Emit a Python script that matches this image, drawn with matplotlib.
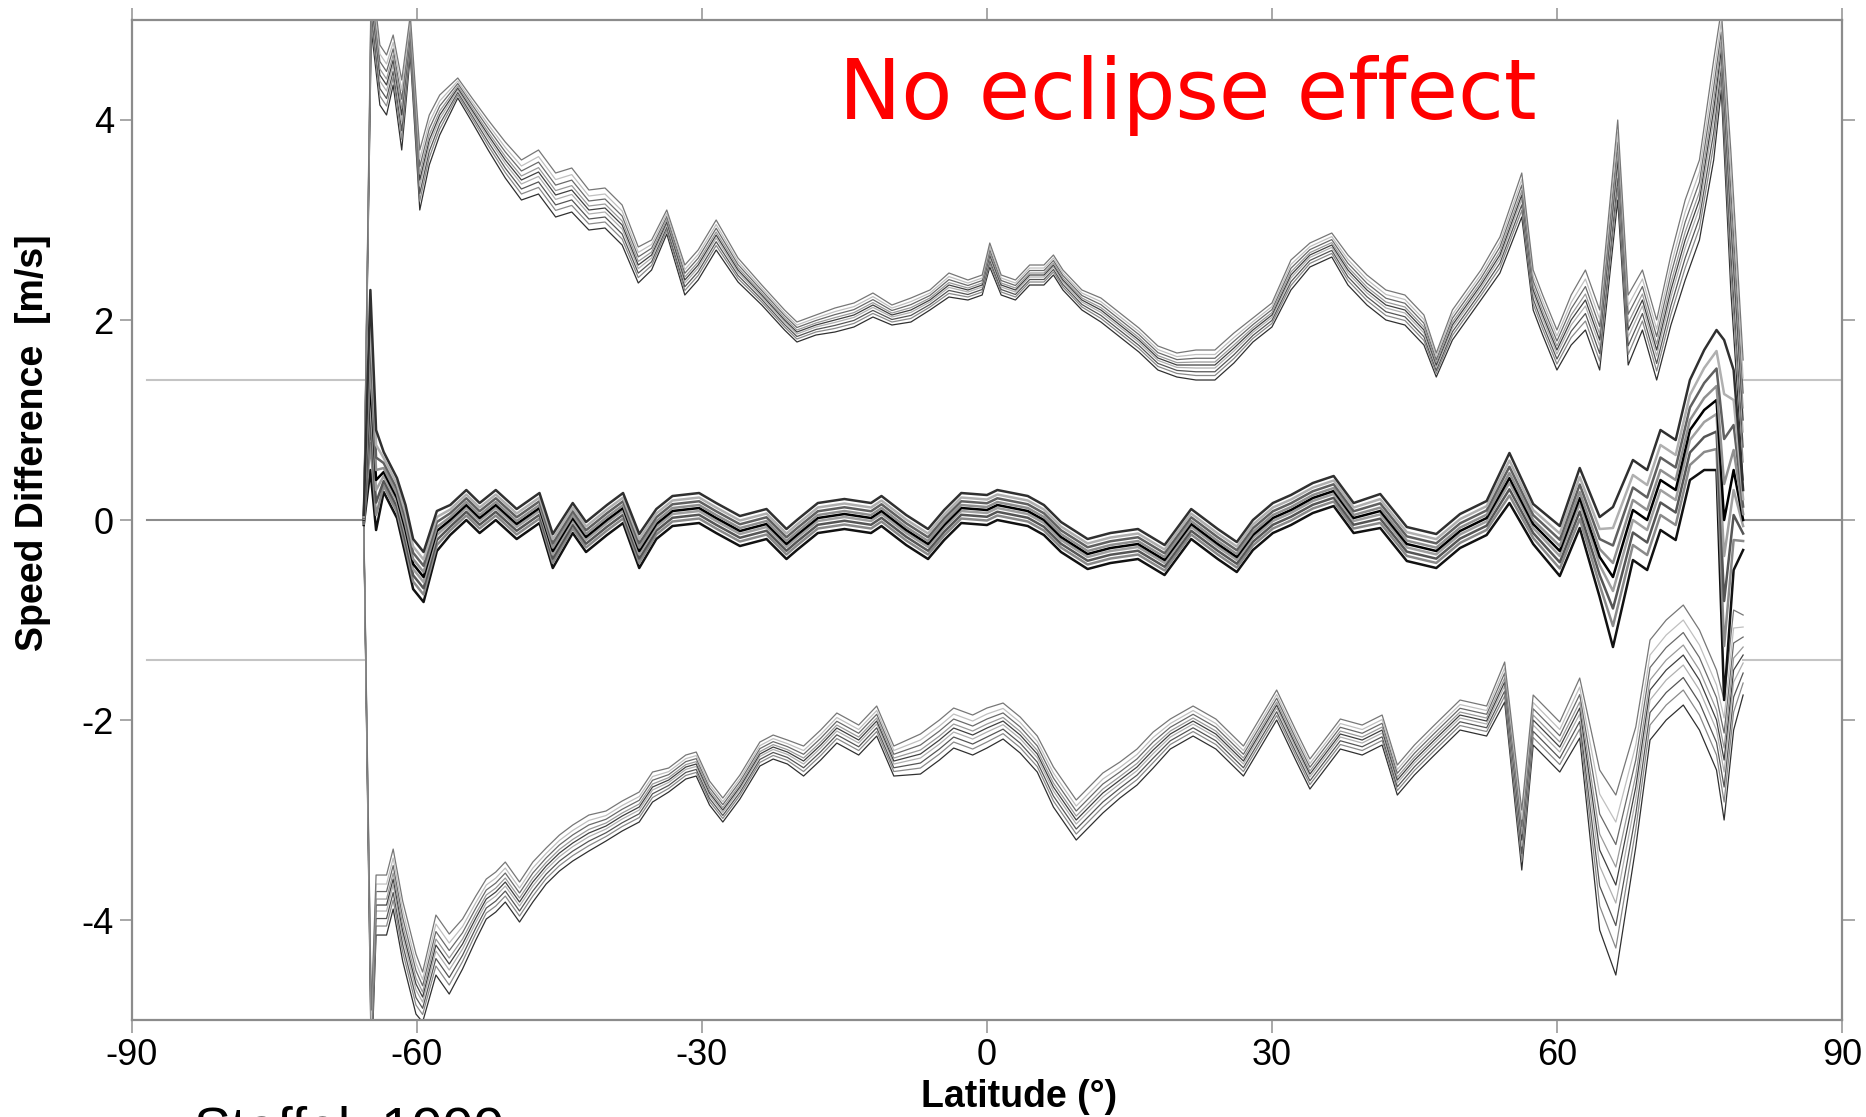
import numpy as np
import matplotlib
matplotlib.use("Agg")
import matplotlib.pyplot as plt

plt.rcParams['font.family'] = ['Liberation Sans', 'DejaVu Sans']
plt.rcParams['axes.unicode_minus'] = False

# upper bundle (latitude, mean speed difference, half width of the spread of runs)
upper_lat = [-65.6, -64.8, -63.9, -63.2, -62.5, -61.6, -60.7, -59.7, -58.7, -57.6,
             -55.7, -54.2, -52.5, -50.7, -49.0, -47.2, -45.4, -43.7, -41.9, -40.2,
             -38.4, -36.7, -35.3, -33.7, -31.8, -30.4, -28.5, -26.2, -23.7, -21.3,
             -20, -18, -16, -14, -12, -10, -8, -6, -4, -2,
             -0.5, 0.3, 1.5, 3, 4.5, 6, 7, 8, 10, 12,
             14, 16, 18, 20, 22, 24, 26, 28, 30, 32,
             34, 36.3, 38, 40, 42, 44, 46, 47.3, 49, 50.5,
             52, 54, 56.3, 57.5, 58.5, 60, 61.5, 63, 64.5, 66.4,
             67.5, 69, 70.5, 72, 73.5, 75, 76.5, 77.3, 78.3, 79.6]
upper_val = [0.0, 5.2, 4.45, 4.35, 4.6, 4.05, 4.85, 3.4, 3.8, 4.05,
             4.32, 4.1, 3.85, 3.6, 3.4, 3.48, 3.25, 3.3, 3.1, 3.12,
             2.95, 2.55, 2.65, 2.98, 2.4, 2.55, 2.85, 2.5, 2.25, 2.0,
             1.88, 1.95, 2.0, 2.05, 2.15, 2.05, 2.1, 2.2, 2.35, 2.3,
             2.35, 2.65, 2.35, 2.3, 2.45, 2.45, 2.55, 2.4, 2.2, 2.1,
             1.95, 1.8, 1.62, 1.55, 1.55, 1.55, 1.72, 1.9, 2.05, 2.45,
             2.65, 2.75, 2.5, 2.3, 2.15, 2.1, 1.9, 1.55, 1.95, 2.15,
             2.35, 2.65, 3.25, 2.3, 2.05, 1.7, 2.0, 2.2, 1.8, 3.6,
             1.9, 2.2, 1.7, 2.3, 2.8, 3.2, 4.1, 4.7, 3.0, 1.0]
upper_spread = [0.05, 0.3, 0.3, 0.3, 0.25, 0.35, 0.2, 0.3, 0.25, 0.2,
                0.1, 0.12, 0.15, 0.18, 0.2, 0.22, 0.22, 0.22, 0.2, 0.2,
                0.2, 0.18, 0.15, 0.12, 0.15, 0.15, 0.15, 0.12, 0.1, 0.1,
                0.1, 0.1, 0.12, 0.12, 0.12, 0.1, 0.12, 0.1, 0.12, 0.1,
                0.1, 0.12, 0.1, 0.1, 0.1, 0.1, 0.1, 0.1, 0.1, 0.12,
                0.12, 0.12, 0.12, 0.12, 0.15, 0.15, 0.15, 0.12, 0.12, 0.15,
                0.12, 0.12, 0.15, 0.15, 0.15, 0.15, 0.15, 0.12, 0.15, 0.15,
                0.15, 0.18, 0.22, 0.2, 0.2, 0.2, 0.25, 0.3, 0.3, 0.4,
                0.35, 0.3, 0.3, 0.35, 0.4, 0.4, 0.5, 0.4, 0.7, 0.6]

# middle bundle
mid_lat = [-65.6, -64.9, -64.3, -63.5, -62.1, -61.2, -60.4, -59.3, -57.9, -56.5,
           -54.8, -53.4, -51.7, -49.5, -47.1, -45.7, -43.6, -42.2, -40.0, -38.3,
           -36.6, -34.8, -33.1, -30.3, -28.5, -26.0, -23.2, -21.1, -20, -17.8,
           -15, -12.2, -11.1, -8.5, -6.2, -4.5, -2.7, 0, 1.1, 4.3,
           6, 7.8, 10.6, 13, 15.9, 18.7, 21.5, 24.3, 26.3, 28,
           30.1, 32, 34.3, 36.5, 38.6, 41.4, 44.2, 47.3, 49.8, 52.6,
           55.0, 57.5, 60.3, 62.4, 64.5, 65.9, 68.0, 69.5, 70.9, 72.5,
           74.0, 75.5, 76.8, 77.6, 78.6, 79.6]
mid_val = [0.0, 1.4, 0.4, 0.48, 0.22, -0.1, -0.44, -0.57, -0.11, 0.0,
           0.15, 0.02, 0.15, -0.04, 0.12, -0.31, 0.02, -0.17, 0.0, 0.12,
           -0.31, -0.04, 0.09, 0.12, 0.02, -0.11, -0.04, -0.24, -0.15, 0.02,
           0.06, 0.02, 0.09, -0.1, -0.24, -0.05, 0.12, 0.1, 0.15, 0.09,
           0.0, -0.17, -0.34, -0.28, -0.24, -0.4, -0.04, -0.24, -0.37, -0.15,
           0.02, 0.1, 0.22, 0.29, 0.02, 0.09, -0.24, -0.31, -0.11, 0.02,
           0.42, -0.04, -0.31, 0.22, -0.37, -0.57, 0.1, 0.0, 0.4, 0.3,
           0.9, 1.1, 1.2, 0.0, 0.5, 0.0]
mid_spread = [0.05, 0.9, 0.5, 0.2, 0.2, 0.25, 0.25, 0.25, 0.2, 0.15,
              0.15, 0.15, 0.15, 0.15, 0.15, 0.17, 0.15, 0.15, 0.15, 0.15,
              0.17, 0.15, 0.15, 0.15, 0.15, 0.15, 0.15, 0.15, 0.15, 0.15,
              0.15, 0.15, 0.15, 0.15, 0.15, 0.15, 0.15, 0.15, 0.15, 0.15,
              0.15, 0.15, 0.15, 0.15, 0.15, 0.15, 0.15, 0.15, 0.15, 0.15,
              0.15, 0.15, 0.15, 0.15, 0.15, 0.17, 0.17, 0.17, 0.17, 0.17,
              0.25, 0.2, 0.25, 0.3, 0.4, 0.7, 0.5, 0.5, 0.5, 0.5,
              0.5, 0.6, 0.7, 1.8, 1.0, 0.3]

# lower bundle
low_lat = [-65.6, -64.8, -64.3, -63.2, -62.5, -61.5, -60.1, -59.4, -58.0, -56.6,
           -55.2, -53.8, -52.7, -51.7, -50.7, -49.2, -47.8, -46.4, -45.0, -43.6,
           -41.9, -40.1, -38.4, -36.6, -35.2, -33.5, -31.7, -30.6, -29.2, -27.8,
           -26.0, -23.9, -22.5, -21.0, -19.3, -17.5, -15.8, -13.5, -11.6, -9.8,
           -7.0, -5.0, -3.5, -1.5, 0.0, 1.7, 3.5, 5.3, 7.0, 9.4,
           12.2, 14, 15.8, 17.5, 19.3, 21.7, 24.1, 27.0, 30.5, 32.5,
           34.0, 37.2, 39.5, 41.6, 43.2, 45, 47.0, 49.8, 52.6, 54.5,
           56.3, 57.5, 60.3, 62.4, 64.5, 66.2, 68.3, 69.8, 71.5, 73.3,
           75, 76.8, 77.6, 78.6, 79.6]
low_val = [0.0, -5.2, -3.85, -3.85, -3.59, -4.11, -4.64, -4.77, -4.25, -4.44,
           -4.24, -3.98, -3.79, -3.72, -3.62, -3.82, -3.62, -3.46, -3.33, -3.23,
           -3.13, -3.06, -2.96, -2.87, -2.67, -2.6, -2.47, -2.44, -2.73, -2.9,
           -2.67, -2.34, -2.27, -2.32, -2.41, -2.25, -2.08, -2.2, -2.01, -2.41,
           -2.34, -2.2, -2.08, -2.15, -2.08, -2.01, -2.15, -2.34, -2.67, -3.0,
           -2.73, -2.6, -2.47, -2.3, -2.14, -2.01, -2.14, -2.41, -1.85, -2.25,
           -2.54, -2.14, -2.2, -2.1, -2.6, -2.4, -2.21, -1.95, -2.01, -1.62,
           -3.2, -2.0, -2.27, -1.88, -3.3, -3.65, -2.67, -1.7, -1.5, -1.35,
           -1.6, -2.0, -2.4, -1.5, -1.35]
low_spread = [0.05, 0.3, 0.3, 0.3, 0.3, 0.3, 0.3, 0.25, 0.3, 0.3,
              0.25, 0.22, 0.2, 0.2, 0.2, 0.2, 0.2, 0.18, 0.18, 0.18,
              0.18, 0.15, 0.15, 0.15, 0.15, 0.12, 0.12, 0.12, 0.12, 0.12,
              0.12, 0.12, 0.12, 0.12, 0.15, 0.15, 0.15, 0.15, 0.15, 0.15,
              0.2, 0.2, 0.2, 0.2, 0.2, 0.18, 0.18, 0.18, 0.2, 0.2,
              0.2, 0.18, 0.18, 0.18, 0.15, 0.15, 0.15, 0.15, 0.15, 0.15,
              0.15, 0.15, 0.15, 0.15, 0.15, 0.15, 0.15, 0.15, 0.15, 0.2,
              0.3, 0.25, 0.25, 0.3, 0.8, 0.9, 0.6, 0.5, 0.5, 0.5,
              0.5, 0.5, 0.6, 0.6, 0.4]

# individual runs: position inside the bundle and grey level
run_offsets = [-1.0, -0.7, -0.45, -0.2, 0.0, 0.2, 0.45, 0.7, 1.0]
run_greys = ['#303030', '#8a8a8a', '#555555', '#b0b0b0', '#404040',
             '#9a9a9a', '#6a6a6a', '#c0c0c0', '#777777']
mid_greys = ['#111111', '#8a8a8a', '#555555', '#a0a0a0', '#000000',
             '#909090', '#606060', '#b0b0b0', '#303030']

# reference levels outside the data range
ref_levels = [1.4, 0.0, -1.4]
ref_colors = ['#c4c4c4', '#8c8c8c', '#c4c4c4']
ref_left = (-88.4, -65.6)
ref_right = (79.6, 90.0)

xticks = [-90, -60, -30, 0, 30, 60, 90]
yticks = [-4, -2, 0, 2, 4]

fig = plt.figure(figsize=(18.66, 11.17), dpi=100)
ax = fig.add_axes([0.0707, 0.0868, 0.9164, 0.8953])

for lev, col in zip(ref_levels, ref_colors):
    for lo, hi in (ref_left, ref_right):
        ax.plot([lo, hi], [lev, lev], color=col, lw=1.5, zorder=1)


def draw_bundle(lat, val, spread, greys, lw):
    lat = np.asarray(lat)
    val = np.asarray(val)
    spread = np.asarray(spread)
    for off, g in zip(run_offsets, greys):
        ax.plot(lat, val + off * spread, color=g, lw=lw, zorder=2)


draw_bundle(upper_lat, upper_val, upper_spread, run_greys, 0.9)
draw_bundle(low_lat, low_val, low_spread, run_greys, 0.9)
draw_bundle(mid_lat, mid_val, mid_spread, mid_greys, 1.8)

ax.set_xlim(-90, 90)
ax.set_ylim(-5, 5)
ax.set_xticks(xticks)
ax.set_yticks(yticks)
ax.tick_params(direction='out', length=9, width=1.2, color='#999999',
               top=True, right=True, labelsize=26, pad=4)
for sp in ax.spines.values():
    sp.set_color('#8c8c8c')
    sp.set_linewidth(1.6)

ax.text(-15.6, 4.01, 'No eclipse effect', color='red', fontsize=60,
        family='DejaVu Sans', va='baseline', ha='left')

fig.text(33 / 1866, 1 - 443 / 1117, 'Speed Difference  [m/s]', rotation=90,
         ha='center', va='center', fontsize=27, fontweight='bold')
fig.text(1019 / 1866, 1 - 1097 / 1117, 'Latitude (°)', ha='center',
         va='center', fontsize=27, fontweight='bold')
fig.text(194 / 1866, 1 - 1106 / 1117, 'Staffel  1999', ha='left', va='top',
         fontsize=40)

fig.savefig('out.png', dpi=100)
